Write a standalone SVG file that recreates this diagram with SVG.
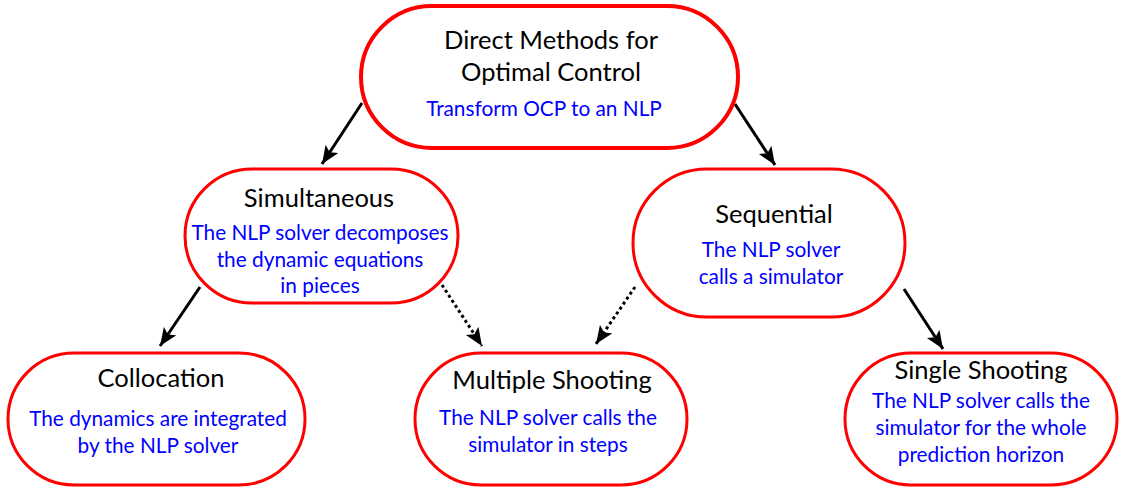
<svg xmlns="http://www.w3.org/2000/svg" width="1124" height="487" viewBox="0 0 1124 487">
<defs>
<style>
.node{fill:#fff;stroke:#ff0000;stroke-width:3}
.top{stroke-width:4}
.t{font-family:Lato,"Open Sans",sans-serif;font-size:25.5px;fill:#000;text-anchor:middle}
.d{font-family:Lato,"Open Sans",sans-serif;font-size:20.8px;fill:#0000ff;text-anchor:middle}
.c{stroke:#000;stroke-width:3;fill:none;marker-end:url(#ah)}
.dot{stroke-dasharray:3 3}
</style>
<marker id="ah" markerUnits="userSpaceOnUse" markerWidth="19" markerHeight="16" refX="18" refY="7.5" orient="auto">
<path d="M0,0 L18,7.5 L0,15 L4,7.5 Z" fill="#000"/>
</marker>
</defs>
<rect width="1124" height="487" fill="#fff"/>
<g id="connectors">
<line class="c" x1="362" y1="103" x2="322" y2="164"/>
<line class="c" x1="735" y1="104" x2="775" y2="165"/>
<line class="c" x1="200" y1="287" x2="160" y2="346"/>
<line class="c dot" x1="442" y1="285" x2="482" y2="346"/>
<line class="c dot" x1="635" y1="287" x2="596" y2="344"/>
<line class="c" x1="904" y1="289" x2="943" y2="349"/>
</g>
<g id="direct">
<rect class="node top" x="361" y="6" width="377" height="142" rx="71"/>
<text class="t" x="551" y="49">Direct Methods for</text>
<text class="t" x="551" y="81">Optimal Control</text>
<text class="d" x="544" y="116">Transform OCP to an NLP</text>
</g>
<g id="simultaneous">
<rect class="node" x="185" y="169" width="273" height="134" rx="67"/>
<text class="t" x="319" y="207">Simultaneous</text>
<text class="d" x="320" y="240">The NLP solver decomposes</text>
<text class="d" x="320" y="267">the dynamic equations</text>
<text class="d" x="320" y="293">in pieces</text>
</g>
<g id="sequential">
<rect class="node" x="633" y="169" width="272" height="148" rx="74"/>
<text class="t" x="774" y="223">Sequential</text>
<text class="d" x="771" y="257">The NLP solver</text>
<text class="d" x="771" y="284">calls a simulator</text>
</g>
<g id="collocation">
<rect class="node" x="8" y="353" width="297" height="132" rx="66"/>
<text class="t" x="161" y="387">Collocation</text>
<text class="d" x="158" y="426">The dynamics are integrated</text>
<text class="d" x="158" y="453">by the NLP solver</text>
</g>
<g id="multiple">
<rect class="node" x="415" y="353" width="272" height="132" rx="66"/>
<text class="t" x="552" y="389">Multiple Shooting</text>
<text class="d" x="548" y="425">The NLP solver calls the</text>
<text class="d" x="548" y="452">simulator in steps</text>
</g>
<g id="single">
<rect class="node" x="845" y="353" width="272" height="132" rx="66"/>
<text class="t" x="981" y="379">Single Shooting</text>
<text class="d" x="981" y="408">The NLP solver calls the</text>
<text class="d" x="981" y="435">simulator for the whole</text>
<text class="d" x="981" y="462">prediction horizon</text>
</g>
</svg>
